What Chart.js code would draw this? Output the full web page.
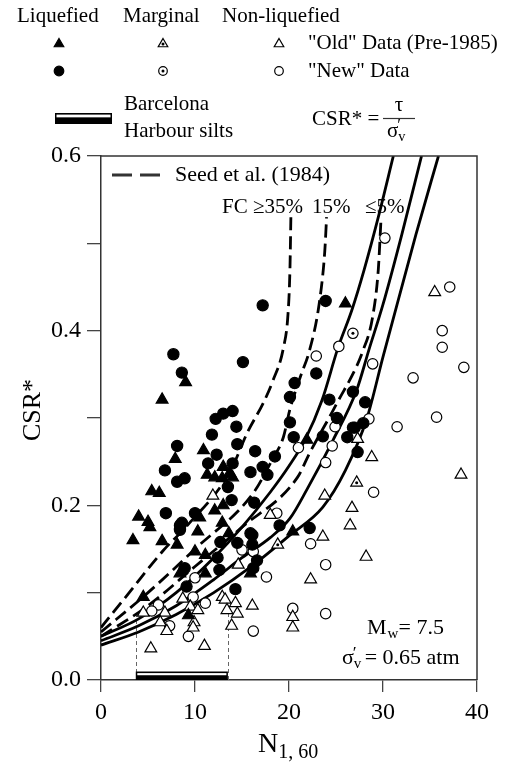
<!DOCTYPE html>
<html>
<head>
<meta charset="utf-8">
<script src="https://cdn.jsdelivr.net/npm/chart.js@4.4.0/dist/chart.umd.min.js"></script>
<style>
  html, body { margin: 0; padding: 0; background: #fff; }
  #wrap { position: relative; width: 511px; height: 769px; }
</style>
</head>
<body>
<div id="wrap"><canvas id="chart" width="511" height="769"></canvas></div>
<script>
const SERIF = "'Liberation Serif', 'Times New Roman', serif";

// ---- data: [N1,60, CSR*] ----
const liquefiedOld = [
  [3.4, 0.16], [6.5, 0.159], [8.1, 0.155], [10.3, 0.17], [10.0, 0.147], [11.1, 0.143],
  [12.9, 0.18], [13.6, 0.168], [20.4, 0.17], [15.9, 0.122], [8.4, 0.122], [11.1, 0.122],
  [4.5, 0.095], [9.3, 0.074], [9.0, 0.341], [6.5, 0.321], [10.9, 0.263], [7.9, 0.253],
  [13.0, 0.244], [13.7, 0.237], [14.0, 0.232], [11.3, 0.235], [12.1, 0.232], [12.9, 0.231],
  [5.4, 0.216], [6.2, 0.214], [13.0, 0.2], [12.1, 0.194], [4.0, 0.187], [5.0, 0.181],
  [5.2, 0.175], [10.5, 0.186], [21.9, 0.275], [26.0, 0.431]
];
const liquefiedNew = [
  [17.2, 0.429], [23.9, 0.434], [7.7, 0.373], [15.1, 0.364], [8.6, 0.352], [22.9, 0.351],
  [20.6, 0.34], [20.1, 0.324], [24.3, 0.321], [26.8, 0.33], [28.1, 0.318], [25.1, 0.30],
  [20.1, 0.295], [20.5, 0.278], [23.6, 0.279], [26.8, 0.289], [27.9, 0.294], [26.2, 0.278],
  [27.3, 0.261], [22.2, 0.174], [8.4, 0.177], [12.7, 0.158], [14.5, 0.157], [16.1, 0.166],
  [16.1, 0.155], [19.0, 0.177], [16.6, 0.137], [12.4, 0.14], [12.6, 0.126], [16.2, 0.128],
  [8.9, 0.128], [9.1, 0.107], [14.3, 0.104], [13.0, 0.305], [12.2, 0.299], [14.0, 0.308],
  [14.4, 0.29], [11.8, 0.281], [14.5, 0.27], [8.1, 0.268], [16.4, 0.262], [18.5, 0.256],
  [12.3, 0.258], [11.4, 0.248], [14.0, 0.248], [6.8, 0.24], [15.9, 0.238], [17.2, 0.244],
  [17.7, 0.235], [8.1, 0.227], [8.9, 0.231], [13.5, 0.221], [13.9, 0.206], [16.3, 0.203],
  [6.9, 0.191], [10.0, 0.191], [8.6, 0.18], [8.4, 0.172], [15.9, 0.168], [27.0, 0.289]
];
const marginalOld = [[27.2, 0.226], [18.8, 0.155]];
const marginalNew = [[26.8, 0.397]];
const nonLiqOld = [
  [35.5, 0.444], [38.3, 0.235], [27.3, 0.276], [28.8, 0.255], [23.8, 0.211], [26.7, 0.197],
  [26.5, 0.177], [23.6, 0.164], [28.2, 0.141], [22.3, 0.115], [20.4, 0.072], [20.4, 0.06],
  [14.6, 0.132], [8.7, 0.093], [12.9, 0.095], [13.2, 0.092], [4.5, 0.077], [6.8, 0.077],
  [9.5, 0.084], [10.3, 0.08], [14.3, 0.088], [16.1, 0.085], [14.5, 0.076], [13.4, 0.08],
  [6.3, 0.066], [7.0, 0.056], [9.9, 0.066], [9.8, 0.06], [13.9, 0.062], [5.3, 0.036],
  [11.0, 0.039], [11.9, 0.211], [18.0, 0.189]
];
const nonLiqNew = [
  [30.2, 0.506], [37.1, 0.45], [36.3, 0.40], [36.3, 0.381], [25.3, 0.382], [38.6, 0.358],
  [33.2, 0.346], [35.7, 0.301], [31.5, 0.29], [22.9, 0.371], [28.9, 0.362], [28.5, 0.299],
  [24.9, 0.29], [21.0, 0.266], [24.6, 0.268], [23.9, 0.249], [29.0, 0.215], [22.3, 0.156],
  [23.9, 0.132], [20.4, 0.082], [23.9, 0.076], [15.0, 0.149], [16.2, 0.147], [17.6, 0.118],
  [10.0, 0.117], [9.8, 0.095], [11.1, 0.088], [6.1, 0.086], [5.4, 0.079], [7.3, 0.062],
  [9.3, 0.05], [16.2, 0.056], [18.7, 0.191]
];

// Seed et al. (1984) boundary curves (dashed)
const seedFC35 = [[0, 0.06], [3, 0.1], [6.6, 0.148], [9.1, 0.176], [13.7, 0.238], [15.6, 0.284],
  [17.3, 0.318], [18.3, 0.343], [19.4, 0.38], [19.9, 0.42], [20.1, 0.47], [20.2, 0.53]];
const seedFC15 = [[0, 0.055], [5, 0.1], [10, 0.15], [16.2, 0.214], [18.2, 0.252], [19.4, 0.278],
  [20.1, 0.31], [21.2, 0.347], [22.2, 0.378], [23.2, 0.43], [23.8, 0.49], [24.0, 0.53]];
const seedFC5 = [[0, 0.05], [5, 0.085], [10, 0.13], [15, 0.175], [20.9, 0.232], [22.2, 0.26],
  [25, 0.315], [27.9, 0.378], [28.9, 0.416], [29.5, 0.47], [29.8, 0.53]];

// solid curves
const curveA = [[0, 0.05], [4, 0.07], [8, 0.1], [12, 0.14], [15, 0.175], [18, 0.215], [20, 0.245],
  [21.7, 0.275], [23.5, 0.32], [25.2, 0.38], [26.7, 0.424], [28, 0.47], [29.5, 0.53], [31.1, 0.6]];
const curveB = [[0, 0.045], [4, 0.062], [8, 0.085], [12, 0.115], [15, 0.14], [18, 0.163], [20.1, 0.185],
  [21.9, 0.218], [24.7, 0.275], [27.2, 0.332], [28.5, 0.378], [30, 0.43], [32, 0.51], [34.1, 0.6]];
const curveC = [[0, 0.04], [4, 0.055], [8, 0.075], [12, 0.1], [16, 0.13], [20, 0.165], [23.6, 0.198],
  [26, 0.24], [28.3, 0.3], [30, 0.37], [31.5, 0.43], [33.5, 0.51], [35.9, 0.6]];

// Barcelona Harbour silts N1,60 range and the heights of its guide lines
const barcelonaN = [3.7, 13.5];
const barcelonaTop = [0.08, 0.095];

const xTicks = [0, 10, 20, 30, 40];
const yTicks = [0.0, 0.1, 0.2, 0.3, 0.4, 0.5, 0.6];

const toPts = (arr) => arr.map(([x, y]) => ({ x, y }));

function pointSet(data, style, radius, fill, extra = {}) {
  return Object.assign({
    data: toPts(data),
    pointStyle: style,
    pointRadius: radius,
    pointHoverRadius: radius,
    pointBackgroundColor: fill,
    pointBorderColor: '#000',
    pointBorderWidth: 1.2,
    showLine: false,
    order: 0
  }, extra);
}

function curveSet(data, dashed) {
  return {
    data: toPts(data),
    showLine: true,
    pointRadius: 0,
    borderColor: '#000',
    borderWidth: 2.8,
    borderDash: dashed ? [13, 6] : [],
    cubicInterpolationMode: 'monotone',
    fill: false,
    order: 1
  };
}

function drawMarker(ctx, kind, x, y, r) {
  ctx.save();
  ctx.lineWidth = 1.2;
  ctx.strokeStyle = '#000';
  ctx.beginPath();
  if (kind.startsWith('tri')) {
    ctx.moveTo(x, y - r);
    ctx.lineTo(x + r * 0.866, y + r * 0.5);
    ctx.lineTo(x - r * 0.866, y + r * 0.5);
    ctx.closePath();
  } else {
    ctx.arc(x, y, r, 0, Math.PI * 2);
  }
  ctx.fillStyle = kind.endsWith('Fill') ? '#000' : '#fff';
  ctx.fill();
  ctx.stroke();
  if (kind.endsWith('Dot')) {
    ctx.beginPath();
    ctx.arc(x, y, 1.5, 0, Math.PI * 2);
    ctx.fillStyle = '#000';
    ctx.fill();
  }
  ctx.restore();
}

function drawBarSymbol(ctx, x0, x1, yBottom, h) {
  ctx.save();
  ctx.fillStyle = '#000';
  ctx.fillRect(x0, yBottom - h, x1 - x0, h);
  ctx.fillStyle = '#fff';
  ctx.fillRect(x0 + 1.5, yBottom - h + 1.6, x1 - x0 - 3, h * 0.25);
  ctx.restore();
}

function text(ctx, str, x, y, size, align = 'left') {
  ctx.font = `${size}px ${SERIF}`;
  ctx.textAlign = align;
  ctx.textBaseline = 'middle';
  ctx.fillStyle = '#000';
  ctx.fillText(str, x, y);
  return ctx.measureText(str).width;
}

// sigma'_v drawn as sigma with prime over a subscript v; returns width used
function sigmaV(ctx, x, y, size) {
  const w = text(ctx, 'σ', x, y, size);
  text(ctx, '′', x + w - 1, y - 5, size * 0.8);
  text(ctx, 'v', x + w, y + 6, size * 0.68);
  return w + size * 0.4;
}

const framePlugin = {
  id: 'frame',
  beforeDatasetsDraw(chart) {
    const { ctx, scales: { x, y } } = chart;
    // Barcelona guide lines and bar
    ctx.save();
    ctx.strokeStyle = '#666';
    ctx.lineWidth = 1;
    ctx.setLineDash([4, 3]);
    barcelonaN.forEach((n, i) => {
      const px = Math.round(x.getPixelForValue(n)) + 0.5;
      ctx.beginPath();
      ctx.moveTo(px, y.getPixelForValue(0));
      ctx.lineTo(px, y.getPixelForValue(barcelonaTop[i]));
      ctx.stroke();
    });
    ctx.restore();
    drawBarSymbol(ctx, x.getPixelForValue(barcelonaN[0]), x.getPixelForValue(barcelonaN[1]),
      y.getPixelForValue(0), 8.5);
  },
  afterDraw(chart) {
    const { ctx, chartArea: a } = chart;
    ctx.save();
    ctx.strokeStyle = '#333';
    ctx.lineWidth = 1.5;
    ctx.beginPath();
    ctx.moveTo(a.left, a.top);
    ctx.lineTo(a.right, a.top);
    ctx.lineTo(a.right, a.bottom);
    ctx.stroke();

    // top legend
    text(ctx, 'Liquefied', 17, 16, 21);
    text(ctx, 'Marginal', 123, 16, 21);
    text(ctx, 'Non-liquefied', 222, 16, 21);
    drawMarker(ctx, 'triFill', 59, 44, 5.5);
    drawMarker(ctx, 'triDot', 163, 44, 5.5);
    drawMarker(ctx, 'tri', 279, 44, 5.5);
    drawMarker(ctx, 'circFill', 59, 71, 4.8);
    drawMarker(ctx, 'circDot', 163, 71, 4.3);
    drawMarker(ctx, 'circ', 279, 71, 4.3);
    text(ctx, '"Old" Data (Pre-1985)', 308, 43, 21);
    text(ctx, '"New" Data', 308, 71, 21);
    drawBarSymbol(ctx, 55, 112, 124, 11);
    text(ctx, 'Barcelona', 124, 104, 21);
    text(ctx, 'Harbour silts', 124, 131, 21);
    text(ctx, 'CSR* =', 312, 119, 21);
    text(ctx, 'τ', 399, 105, 21, 'center');
    ctx.lineWidth = 1.2;
    ctx.beginPath();
    ctx.moveTo(383, 118.5);
    ctx.lineTo(415, 118.5);
    ctx.stroke();
    sigmaV(ctx, 387, 131, 21);

    // annotations inside the plot
    ctx.lineWidth = 3;
    ctx.setLineDash([20, 8]);
    ctx.beginPath();
    ctx.moveTo(112, 175);
    ctx.lineTo(168, 175);
    ctx.stroke();
    ctx.setLineDash([]);
    text(ctx, 'Seed et al. (1984)', 175, 175, 22);
    text(ctx, 'FC ≥35%', 222, 207, 21);
    text(ctx, '15%', 312, 207, 21);
    text(ctx, '≤5%', 365, 207, 21);

    let w = text(ctx, 'M', 367, 628, 22);
    text(ctx, 'w', 367 + w + 1, 634, 15);
    text(ctx, '= 7.5', 367 + w + 12, 628, 22);
    w = sigmaV(ctx, 342, 658, 22);
    text(ctx, '= 0.65 atm', 342 + w + 2, 658, 22);

    // axis titles
    ctx.save();
    ctx.translate(33, 410);
    ctx.rotate(-Math.PI / 2);
    text(ctx, 'CSR*', 0, 0, 26, 'center');
    ctx.restore();
    w = text(ctx, 'N', 258, 745, 28);
    text(ctx, '1, 60', 258 + w, 753, 20);
    ctx.restore();
  }
};

const tickFont = { family: SERIF, size: 24 };

new Chart(document.getElementById('chart').getContext('2d'), {
  type: 'scatter',
  data: {
    datasets: [
      pointSet(liquefiedNew, 'circle', 5.6, '#000'),
      pointSet(liquefiedOld, 'triangle', 6.8, '#000'),
      pointSet(marginalOld, 'circle', 1.5, '#000', { pointBorderWidth: 0 }),
      pointSet(marginalOld, 'triangle', 6.8, '#fff', { order: 0.5 }),
      pointSet(marginalNew, 'circle', 1.5, '#000', { pointBorderWidth: 0 }),
      pointSet(marginalNew, 'circle', 5.2, '#fff', { order: 0.5 }),
      pointSet(nonLiqOld, 'triangle', 6.8, '#fff', { order: 0.5 }),
      pointSet(nonLiqNew, 'circle', 5.2, '#fff', { order: 0.5 }),
      curveSet(seedFC35, true),
      curveSet(seedFC15, true),
      curveSet(seedFC5, true),
      curveSet(curveA, false),
      curveSet(curveB, false),
      curveSet(curveC, false)
    ]
  },
  options: {
    responsive: false,
    animation: false,
    layout: { padding: { top: 156, right: 34, left: 0, bottom: 0 } },
    plugins: { legend: { display: false }, tooltip: { enabled: false } },
    scales: {
      x: {
        type: 'linear',
        min: 0,
        max: 40,
        afterFit: (s) => { s.height = 89; },
        afterBuildTicks: (s) => { s.ticks = xTicks.map((v) => ({ value: v })); },
        ticks: { color: '#000', font: tickFont, padding: 6, callback: (v) => `${v}`, maxRotation: 0 },
        grid: { drawOnChartArea: false, drawTicks: true, tickLength: 12, color: '#444', lineWidth: 1.3 },
        border: { color: '#333', width: 1.5 }
      },
      y: {
        min: 0,
        max: 0.6,
        afterFit: (s) => { s.width = 101; },
        afterBuildTicks: (s) => { s.ticks = yTicks.map((v) => ({ value: v })); },
        ticks: {
          color: '#000',
          font: tickFont,
          padding: 6,
          callback: (v) => (Math.round(v * 10) % 2 === 0 ? v.toFixed(1) : '')
        },
        grid: { drawOnChartArea: false, drawTicks: true, tickLength: 14, color: '#444', lineWidth: 1.3 },
        border: { color: '#333', width: 1.5 }
      }
    }
  },
  plugins: [framePlugin]
});
</script>
</body>
</html>
